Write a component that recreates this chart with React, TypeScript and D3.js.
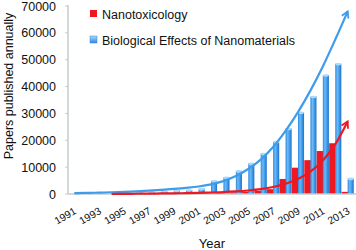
import React from 'react';
import * as d3 from 'd3';

// years on the x axis
const years = d3.range(1991, 2014).map(String);
const tickYears = ['1991', '1993', '1995', '1997', '1999', '2001', '2003', '2005', '2007', '2009', '2011', '2013'];
const yTicks = [0, 10000, 20000, 30000, 40000, 50000, 60000, 70000];

// papers per year
const nanotox = [0, 0, 0, 0, 50, 100, 100, 150, 200, 250, 300, 400, 500, 600, 800, 1200, 1800, 5600, 9800, 12600, 16000, 18900, 800];
const bioEffects = [300, 400, 450, 500, 550, 650, 800, 1000, 1300, 1500, 2000, 4900, 6200, 8600, 11400, 15100, 19500, 24400, 30400, 36300, 44300, 48500, 5800];

// trend curves
const bioTrendYears = years;
const bioTrend = [300, 400, 500, 650, 800, 1000, 1250, 1550, 1900, 2300, 2800, 3600, 4800, 6700, 9300, 12800, 17500, 23500, 30500, 38500, 47500, 57500, 68000];
const toxTrendYears = d3.range(1994, 2014).map(String);
const toxTrend = [0, 50, 100, 150, 200, 250, 320, 400, 550, 700, 950, 1300, 1800, 2600, 3800, 5600, 8300, 12500, 18500, 27000];

const seriesNames = ['Nanotoxicology', 'Biological Effects of Nanomaterials'];

const W = 356;
const H = 250;
const margin = { top: 6, right: 2, bottom: 56, left: 68 };
const font = '"Liberation Sans", Arial, sans-serif';
const RED = '#ee1822';
const BLUE = '#3d9cec';
const AXIS = '#c4cccc';

export default function App() {
  const x = d3.scaleBand().domain(years).range([margin.left, W - margin.right]).padding(0.02);
  const inner = d3.scaleBand().domain(seriesNames).range([0, x.bandwidth()]).padding(0);
  const y = d3.scaleLinear().domain([0, 70000]).range([H - margin.bottom, margin.top]);
  const y0 = y(0);
  const cx = (yr: string) => (x(yr) ?? 0) + x.bandwidth() / 2;

  const line = d3.line<[string, number]>()
    .x(d => cx(d[0]))
    .y(d => y(d[1]))
    .curve(d3.curveMonotoneX);

  const bw = inner.bandwidth();

  return (
    <svg width={W} height={H} style={{ position: 'absolute', left: 0, top: 0, fontFamily: font }}>
      <defs>
        <linearGradient id="blueBar" x1="0" x2="1" y1="0" y2="0">
          <stop offset="0%" stopColor="#2f86dc" />
          <stop offset="35%" stopColor="#6cbaf6" />
          <stop offset="65%" stopColor="#3f9ded" />
          <stop offset="100%" stopColor="#1f6fc6" />
        </linearGradient>
        <linearGradient id="blueLegend" x1="0" x2="0" y1="0" y2="1">
          <stop offset="0%" stopColor="#a9dcfb" />
          <stop offset="100%" stopColor="#2f86dc" />
        </linearGradient>
        <marker id="arrowBlue" viewBox="0 0 10 10" refX="8" refY="5" markerWidth="9" markerHeight="9" markerUnits="userSpaceOnUse" orient="auto">
          <path d="M1,1 L8,5 L1,9" fill="none" stroke={BLUE} strokeWidth={2} />
        </marker>
        <marker id="arrowRed" viewBox="0 0 10 10" refX="8" refY="5" markerWidth="9" markerHeight="9" markerUnits="userSpaceOnUse" orient="auto">
          <path d="M1,1 L8,5 L1,9" fill="none" stroke={RED} strokeWidth={2} />
        </marker>
      </defs>

      {/* y axis */}
      <line x1={margin.left} x2={margin.left} y1={margin.top - 1} y2={y0} stroke={AXIS} strokeWidth={1.5} />
      {yTicks.map(t => (
        <g key={t}>
          <line x1={margin.left - 3} x2={margin.left} y1={y(t)} y2={y(t)} stroke={AXIS} strokeWidth={1} />
          <text x={56} y={y(t)} dy="0.36em" textAnchor="end" fontSize={12.5} fill="#111">{t}</text>
        </g>
      ))}

      {/* bars */}
      {years.map((yr, i) => {
        const bx = (x(yr) ?? 0) + (inner(seriesNames[1]) ?? 0);
        const top = y(bioEffects[i]);
        return (
          <g key={yr}>
            <rect x={(x(yr) ?? 0) + (inner(seriesNames[0]) ?? 0)} y={y(nanotox[i])} width={bw + 0.5} height={y0 - y(nanotox[i])} fill={RED} />
            <rect x={bx} y={top} width={bw} height={y0 - top} fill="url(#blueBar)" />
            <ellipse cx={bx + bw / 2} cy={top + 0.5} rx={bw / 2} ry={1.3} fill="#a6dbfb" />
          </g>
        );
      })}

      {/* x axis */}
      <line x1={margin.left} x2={W} y1={y0} y2={y0} stroke={AXIS} strokeWidth={1.5} />
      {tickYears.map(t => (
        <text key={t} transform={`translate(${cx(t) + 1},${y0 + 16}) rotate(-30)`} textAnchor="end" dy="0.35em" fontSize={10.5} fill="#111">{t}</text>
      ))}

      {/* trend curves */}
      <path d={line(bioTrendYears.map((yr, i) => [yr, bioTrend[i]] as [string, number])) ?? ''} fill="none" stroke={BLUE} strokeWidth={2.2} markerEnd="url(#arrowBlue)" />
      <path d={line(toxTrendYears.map((yr, i) => [yr, toxTrend[i]] as [string, number])) ?? ''} fill="none" stroke={RED} strokeWidth={2.2} markerEnd="url(#arrowRed)" />

      {/* legend */}
      <rect x={90} y={10} width={7} height={7} fill={RED} />
      <text x={102} y={19} fontSize={12.5} fill="#111">{seriesNames[0]}</text>
      <rect x={90} y={36} width={7} height={7} fill="url(#blueLegend)" stroke="#2f86dc" strokeWidth={0.5} />
      <text x={102} y={44.5} fontSize={12.5} fill="#111">{seriesNames[1]}</text>

      {/* axis titles */}
      <text x={212} y={248} textAnchor="middle" fontSize={13} fill="#111">Year</text>
      <text transform={`translate(13,${(margin.top + y0) / 2 - 14}) rotate(-90)`} textAnchor="middle" fontSize={12.5} fill="#111">Papers published annually</text>
    </svg>
  );
}
